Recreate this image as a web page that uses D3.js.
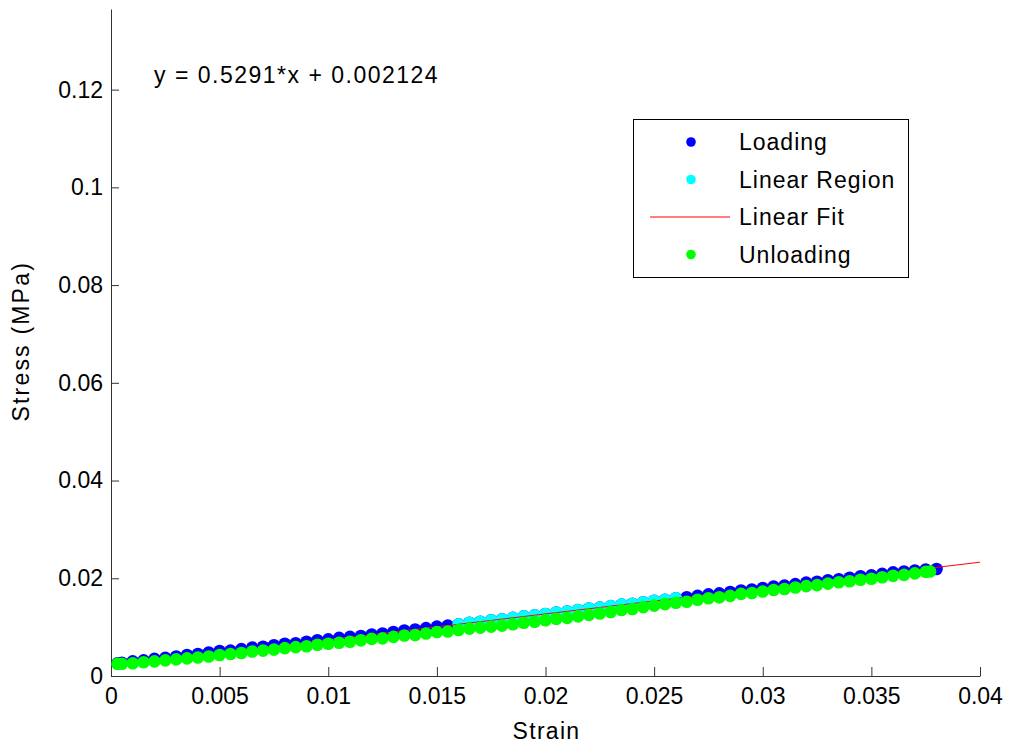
<!DOCTYPE html>
<html>

<head>
  <meta charset="UTF-8">
  <script src="https://d3js.org/d3.v7.js"></script>
  <style>
    body { margin: 0; background: #fff; }
    text { font-family: "Liberation Sans", Arial, sans-serif; }
  </style>
</head>

<body>
  <div id="chart"></div>

  <script>
    // data

    const loadStrain = [0.0003, 0.0005, 0.0010, 0.0015, 0.0020, 0.0025, 0.0030, 0.0035, 0.0040, 0.0045,
      0.0050, 0.0055, 0.0060, 0.0065, 0.0070, 0.0075, 0.0080, 0.0085, 0.0090, 0.0095,
      0.0100, 0.0105, 0.0110, 0.0115, 0.0120, 0.0125, 0.0130, 0.0135, 0.0140, 0.0145,
      0.0150, 0.0155, 0.0160, 0.0165, 0.0170, 0.0175, 0.0180, 0.0185, 0.0190, 0.0195,
      0.0200, 0.0205, 0.0210, 0.0215, 0.0220, 0.0225, 0.0230, 0.0235, 0.0240, 0.0245,
      0.0250, 0.0255, 0.0260, 0.0265, 0.0270, 0.0275, 0.0280, 0.0285, 0.0290, 0.0295,
      0.0300, 0.0305, 0.0310, 0.0315, 0.0320, 0.0325, 0.0330, 0.0335, 0.0340, 0.0345,
      0.0350, 0.0355, 0.0360, 0.0365, 0.0370, 0.0375, 0.0380];
    const loadStress = [0.0026, 0.0027, 0.0030, 0.0032, 0.0035, 0.0037, 0.0040, 0.0043, 0.0045, 0.0048,
      0.0051, 0.0052, 0.0055, 0.0058, 0.0060, 0.0063, 0.0066, 0.0067, 0.0070, 0.0073,
      0.0075, 0.0078, 0.0080, 0.0082, 0.0085, 0.0087, 0.0090, 0.0093, 0.0095, 0.0098,
      0.0101, 0.0103, 0.0106, 0.0109, 0.0111, 0.0114, 0.0116, 0.0119, 0.0122, 0.0124,
      0.0127, 0.0130, 0.0132, 0.0135, 0.0138, 0.0140, 0.0143, 0.0146, 0.0148, 0.0151,
      0.0154, 0.0156, 0.0159, 0.0161, 0.0164, 0.0167, 0.0169, 0.0172, 0.0175, 0.0177,
      0.0180, 0.0183, 0.0185, 0.0188, 0.0191, 0.0193, 0.0196, 0.0198, 0.0201, 0.0204,
      0.0206, 0.0209, 0.0212, 0.0214, 0.0216, 0.0218, 0.0219];

    const linStrain = [0.0160, 0.0165, 0.0170, 0.0175, 0.0180, 0.0185, 0.0190, 0.0195, 0.0200, 0.0205,
      0.0210, 0.0215, 0.0220, 0.0225, 0.0230, 0.0235, 0.0240, 0.0245, 0.0250, 0.0255, 0.0260];
    const linStress = [0.0106, 0.0109, 0.0111, 0.0114, 0.0116, 0.0119, 0.0122, 0.0124, 0.0127, 0.0130,
      0.0132, 0.0135, 0.0138, 0.0140, 0.0143, 0.0146, 0.0148, 0.0151, 0.0154, 0.0156, 0.0159];

    const fitStrain = [0, 0.04];
    const fitStress = [0.002124, 0.023288];

    const unloadStrain = [0.0003, 0.0005, 0.0010, 0.0015, 0.0020, 0.0025, 0.0030, 0.0035, 0.0040, 0.0045,
      0.0050, 0.0055, 0.0060, 0.0065, 0.0070, 0.0075, 0.0080, 0.0085, 0.0090, 0.0095,
      0.0100, 0.0105, 0.0110, 0.0115, 0.0120, 0.0125, 0.0130, 0.0135, 0.0140, 0.0145,
      0.0150, 0.0155, 0.0160, 0.0165, 0.0170, 0.0175, 0.0180, 0.0185, 0.0190, 0.0195,
      0.0200, 0.0205, 0.0210, 0.0215, 0.0220, 0.0225, 0.0230, 0.0235, 0.0240, 0.0245,
      0.0250, 0.0255, 0.0260, 0.0265, 0.0270, 0.0275, 0.0280, 0.0285, 0.0290, 0.0295,
      0.0300, 0.0305, 0.0310, 0.0315, 0.0320, 0.0325, 0.0330, 0.0335, 0.0340, 0.0345,
      0.0350, 0.0355, 0.0360, 0.0365, 0.0370, 0.0375, 0.0377];
    const unloadStress = [0.0025, 0.0025, 0.0026, 0.0028, 0.0030, 0.0032, 0.0034, 0.0036, 0.0038, 0.0040,
      0.0043, 0.0045, 0.0047, 0.0050, 0.0052, 0.0054, 0.0057, 0.0059, 0.0061, 0.0064,
      0.0066, 0.0068, 0.0070, 0.0073, 0.0076, 0.0077, 0.0080, 0.0083, 0.0084, 0.0087,
      0.0090, 0.0091, 0.0094, 0.0097, 0.0099, 0.0101, 0.0103, 0.0106, 0.0109, 0.0111,
      0.0114, 0.0117, 0.0119, 0.0122, 0.0125, 0.0128, 0.0131, 0.0135, 0.0137, 0.0141,
      0.0144, 0.0147, 0.0150, 0.0152, 0.0156, 0.0159, 0.0161, 0.0164, 0.0168, 0.0170,
      0.0173, 0.0176, 0.0178, 0.0181, 0.0184, 0.0186, 0.0189, 0.0192, 0.0194, 0.0197,
      0.0199, 0.0202, 0.0205, 0.0207, 0.0210, 0.0213, 0.0214];

    const xTicks = [0, 0.005, 0.01, 0.015, 0.02, 0.025, 0.03, 0.035, 0.04];
    const yTicks = [0, 0.02, 0.04, 0.06, 0.08, 0.1, 0.12];

    const legendLabels = ['Loading', 'Linear Region', 'Linear Fit', 'Unloading'];
    const equation = 'y = 0.5291*x + 0.002124';

    // set up

    const margin = { top: 9, right: 32, bottom: 70, left: 111 };
    const width = 1012 - margin.left - margin.right;
    const height = 746 - margin.top - margin.bottom;

    const svg = d3.select('#chart')
      .append('svg')
        .attr('width', width + margin.left + margin.right)
        .attr('height', height + margin.top + margin.bottom)
      .append('g')
        .attr('transform', `translate(${margin.left},${margin.top})`);

    // scales

    const x = d3.scaleLinear()
        .domain([0, 0.04])
        .range([0, width]);

    const y = d3.scaleLinear()
        .domain([0, 0.1365])
        .range([height, 0]);

    const fmt = d => d === 0 ? '0' : String(+d.toFixed(3));

    // axes (matlab style: ticks inside)

    const xAxis = d3.axisBottom(x).tickValues(xTicks).tickFormat(fmt)
        .tickSizeInner(-9).tickSizeOuter(0).tickPadding(12);
    const yAxis = d3.axisLeft(y).tickValues(yTicks).tickFormat(fmt)
        .tickSizeInner(-8).tickSizeOuter(0).tickPadding(8);

    svg.append('g')
        .attr('transform', `translate(0,${height})`)
        .call(xAxis)
        .call(g => g.selectAll('text').attr('font-size', 23).attr('fill', '#000'))
        .call(g => g.selectAll('line, path').attr('stroke', '#333'));

    svg.append('g')
        .call(yAxis)
        .call(g => g.selectAll('text').attr('font-size', 23).attr('fill', '#000'))
        .call(g => g.selectAll('line, path').attr('stroke', '#333'));

    svg.append('text')
        .attr('x', x(0.02) + 1)
        .attr('y', height + 63)
        .attr('text-anchor', 'middle')
        .attr('font-size', 23)
        .attr('letter-spacing', 1.3)
        .text('Strain');

    svg.append('text')
        .attr('transform', `translate(-82,${y(0.0685)}) rotate(-90)`)
        .attr('text-anchor', 'middle')
        .attr('font-size', 23)
        .attr('letter-spacing', 2.2)
        .text('Stress (MPa)');

    svg.append('text')
        .attr('x', 43)
        .attr('y', 74)
        .attr('font-size', 23)
        .attr('letter-spacing', 1.5)
        .text(equation);

    // draw series

    const dots = (xs, ys, color) => {
      svg.append('g')
          .attr('fill', color)
        .selectAll('circle')
        .data(xs.map((d, i) => [d, ys[i]]))
        .join('circle')
          .attr('cx', d => x(d[0]))
          .attr('cy', d => y(d[1]))
          .attr('r', 6.3);
    };

    dots(loadStrain, loadStress, '#0000ff');
    dots(linStrain, linStress, '#00ffff');

    svg.append('path')
        .datum(fitStrain.map((d, i) => [d, fitStress[i]]))
        .attr('fill', 'none')
        .attr('stroke', '#ff0000')
        .attr('stroke-width', 1)
        .attr('d', d3.line().x(d => x(d[0])).y(d => y(d[1])));

    dots(unloadStrain, unloadStress, '#00ff00');

    // legend

    const legend = svg.append('g')
        .attr('transform', `translate(${633 - margin.left},${119 - margin.top})`);

    legend.append('rect')
        .attr('x', 0.5).attr('y', 0.5)
        .attr('width', 275).attr('height', 158)
        .attr('fill', '#fff')
        .attr('stroke', '#000');

    const legColors = ['#0000ff', '#00ffff', '#ff0000', '#00ff00'];

    legendLabels.forEach((label, i) => {
      const cy = 23 + i * 37.5;
      if (label === 'Linear Fit') {
        legend.append('line')
            .attr('x1', 17).attr('x2', 97)
            .attr('y1', cy).attr('y2', cy)
            .attr('stroke', legColors[i]);
      } else {
        legend.append('circle')
            .attr('cx', 58).attr('cy', cy)
            .attr('r', 4.8)
            .attr('fill', legColors[i]);
      }
      legend.append('text')
          .attr('x', 106)
          .attr('y', cy + 8)
          .attr('font-size', 23)
          .attr('letter-spacing', 1)
          .text(label);
    });
  </script>
</body>

</html>
